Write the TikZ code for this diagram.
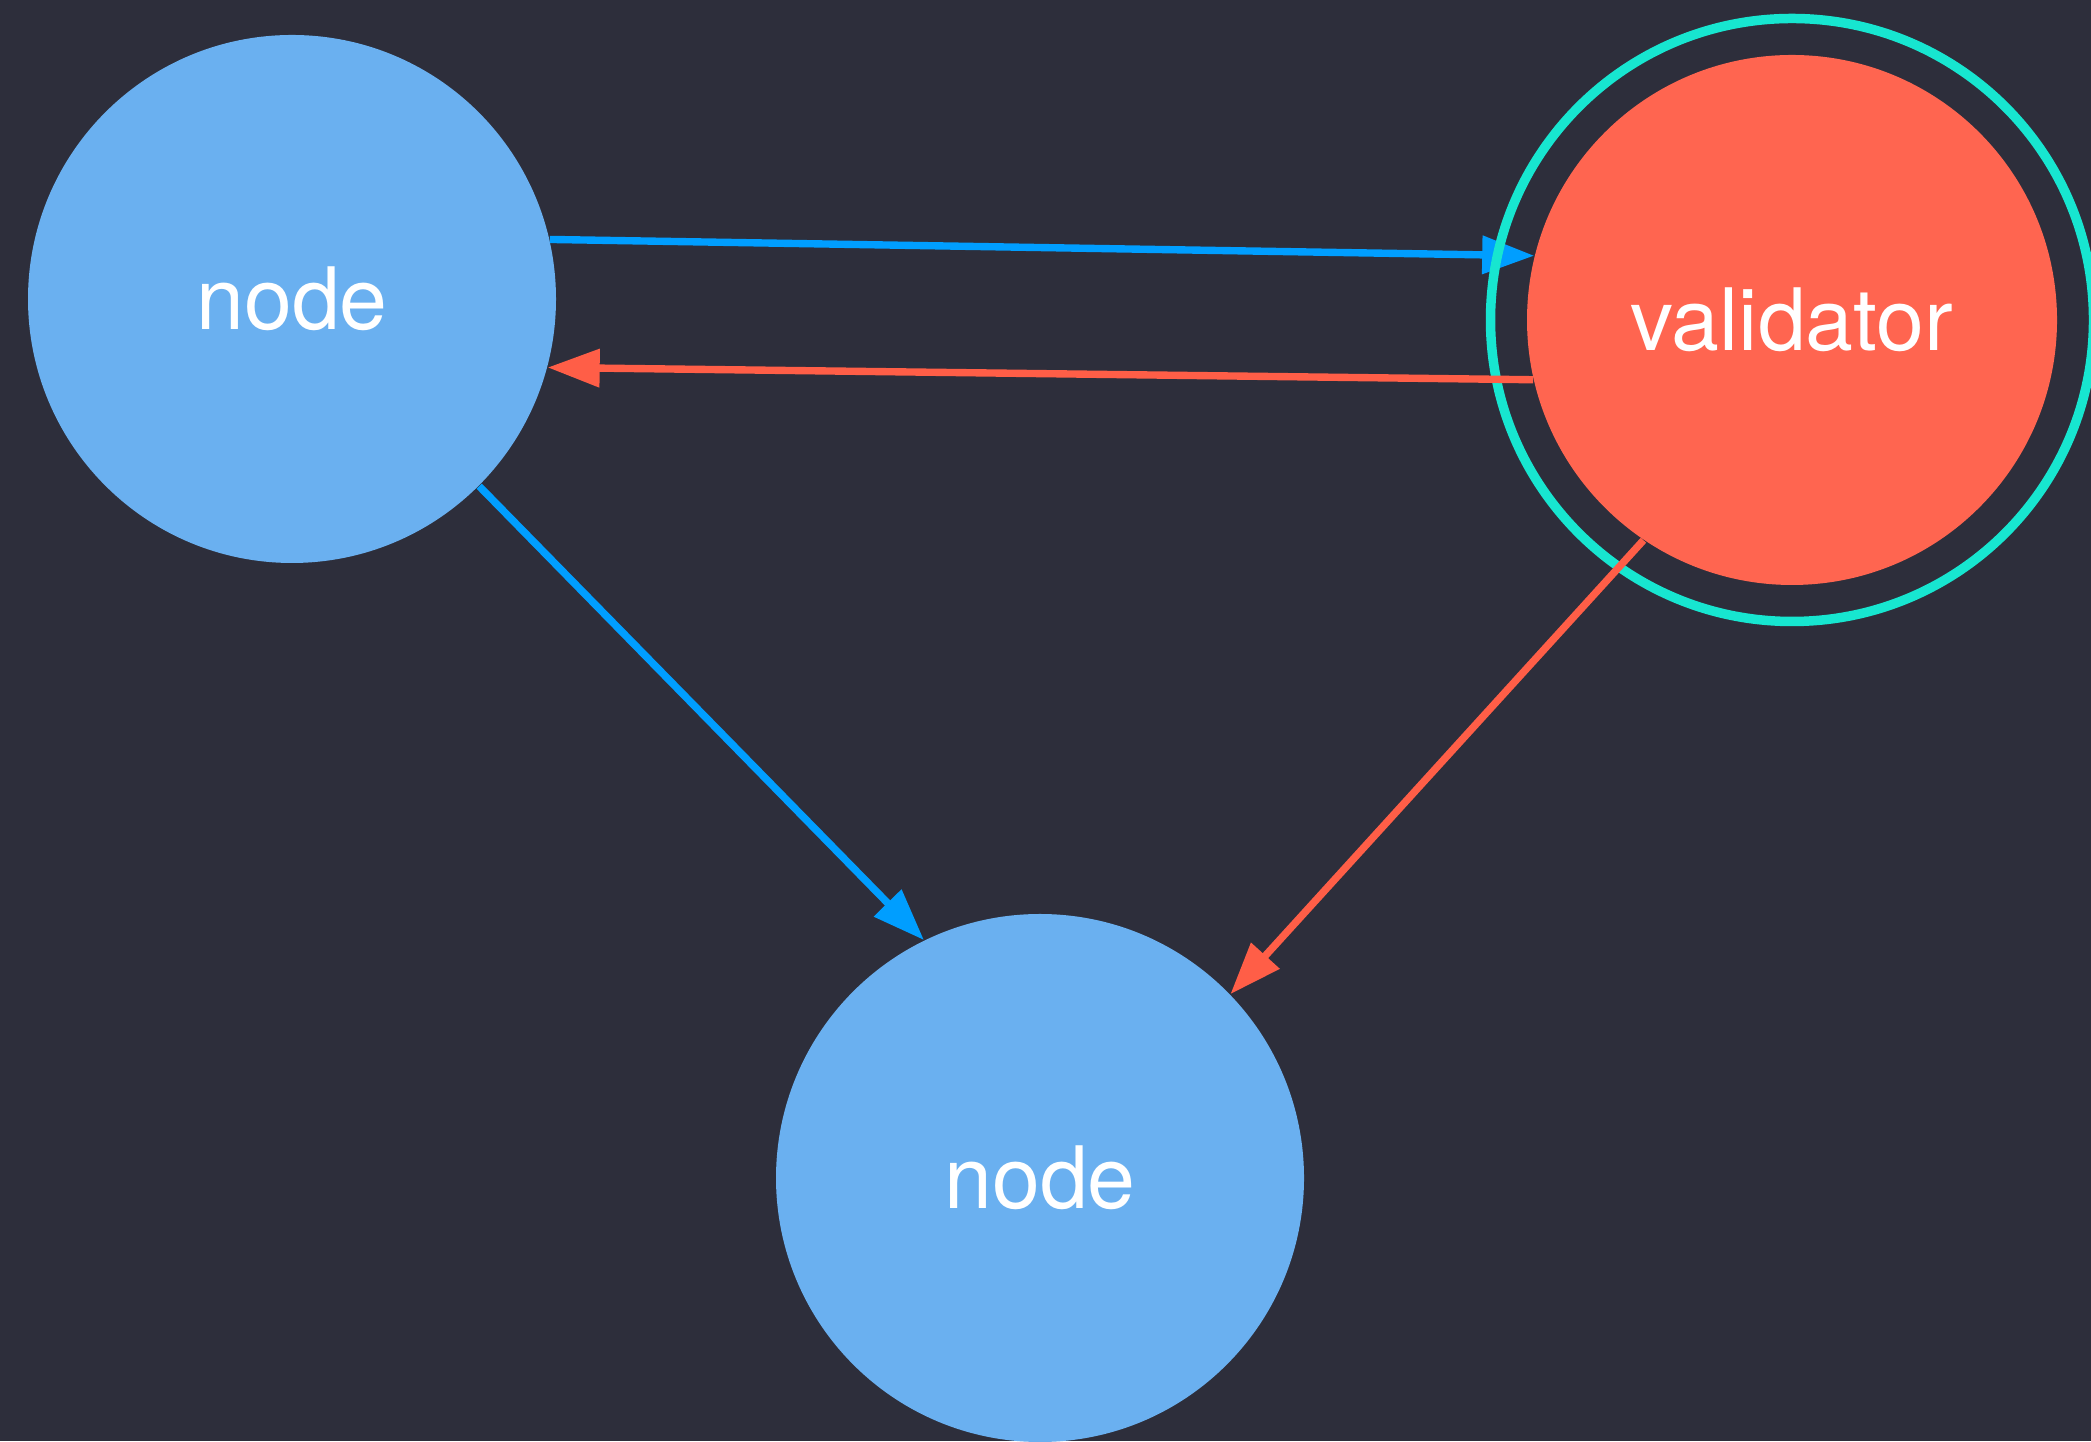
\documentclass[tikz,border=0pt]{standalone}
\usepackage{fontspec}
\setmainfont{TeX Gyre Heros}
\usepackage{tikz}
\usetikzlibrary{arrows.meta,positioning,calc}
\definecolor{bgdark}{HTML}{2D2E3B}
\definecolor{peerblue}{HTML}{6AB0F0}
\definecolor{valred}{HTML}{FF6550}
\definecolor{ringteal}{HTML}{17E6D0}
\definecolor{linkblue}{HTML}{009EFF}
\definecolor{linkred}{HTML}{FF5E47}
\tikzstyle{peer}      = [circle,fill=peerblue,minimum size=5.28cm,inner sep=0pt,text=white,font=\fontsize{24.5}{28}\selectfont]
\tikzstyle{validator} = [peer,fill=valred,minimum size=5.3cm]
\tikzstyle{ring}      = [draw=ringteal,line width=2.7pt]
\tikzstyle{sendblue}  = [draw=linkblue,line width=2.1pt,arrows={-Triangle[length=0.52cm,width=0.37cm]}]
\tikzstyle{sendred}   = [draw=linkred,line width=2.1pt,arrows={-Triangle[length=0.52cm,width=0.37cm]}]

\begin{document}
\begin{tikzpicture}
                  \fill[bgdark] (0,0) rectangle (20.91,14.41);
                  \useasboundingbox (0,0) rectangle (20.91,14.41);

                  \node (n1)[peer]      at (2.92,11.42)  {node};
                  \node (v1)[validator] at (17.92,11.21) {validator};
                  \node (n2)[peer]      at (10.40,2.63)  {node};

                  \draw[sendblue] (n1.13.5)  -- (v1.166.4);
                  \draw[sendblue] (n1.-45)   -- (n2.116.9);

                  % ring round the validator, under the red links
                  \draw[ring] (v1.center) circle (3.015);

                  \draw[sendred]  (v1.193.8) -- (n1.-15.5);
                  \draw[sendred]  (v1.236.5) -- (n2.44.5);
            \end{tikzpicture}
\end{document}
